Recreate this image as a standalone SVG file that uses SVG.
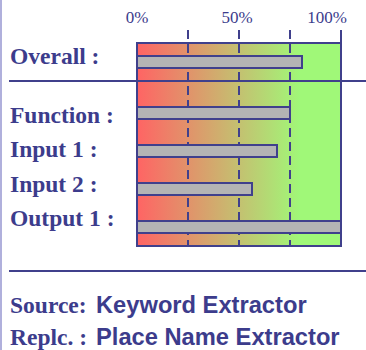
<svg xmlns="http://www.w3.org/2000/svg" width="366" height="350" viewBox="0 0 366 350">
  <defs>
    <linearGradient id="grad" x1="137" y1="0" x2="341" y2="0" gradientUnits="userSpaceOnUse">
      <stop offset="0" stop-color="#ff6464"/>
      <stop offset="0.8" stop-color="#a0f878"/>
      <stop offset="1" stop-color="#a0f878"/>
    </linearGradient>
  </defs>
  <style>
    .lbl { font-family: "Liberation Serif", "Times New Roman", serif; font-weight: bold; font-size: 23.5px; fill: #3c3c8c; }
    .pct { font-family: "Liberation Serif", "Times New Roman", serif; font-size: 17px; fill: #3c3c8c; }
    .sans { font-family: "Liberation Sans", Arial, sans-serif; font-weight: bold; font-size: 23.7px; fill: #3c3c8c; }
    .bar { fill: #b4b4b4; stroke: #40408c; stroke-width: 2; }
    .line { stroke: #40408c; stroke-width: 2; fill: none; }
    .dash { stroke: #40408c; stroke-width: 2; stroke-dasharray: 9 5; fill: none; }
  </style>
  <rect x="0" y="0" width="366" height="350" fill="#ffffff"/>
  <rect x="0" y="0" width="2" height="350" fill="#b0b0dc"/>

  <g id="chart">
    <rect x="137" y="43" width="204" height="203" fill="url(#grad)" stroke="#40408c" stroke-width="2"/>
    <line class="line" x1="341" y1="30" x2="341" y2="246"/>
    <line class="dash" x1="188" y1="30" x2="188" y2="246"/>
    <line class="dash" x1="239" y1="30" x2="239" y2="246"/>
    <line class="dash" x1="290" y1="30" x2="290" y2="246"/>
    <text class="pct" x="137" y="23" text-anchor="middle">0%</text>
    <text class="pct" x="237" y="23" text-anchor="middle">50%</text>
    <text class="pct" x="327" y="23" text-anchor="middle">100%</text>
  </g>

  <g id="separators">
    <line class="line" x1="9" y1="81" x2="366" y2="81"/>
    <line class="line" x1="9" y1="271" x2="366" y2="271"/>
  </g>

  <g id="overall">
    <text class="lbl" x="10" y="64">Overall :</text>
    <rect class="bar" x="137" y="56" width="165" height="12"/>
  </g>
  <g id="function">
    <text class="lbl" x="10" y="123">Function :</text>
    <rect class="bar" x="137" y="107" width="153" height="12"/>
  </g>
  <g id="input1">
    <text class="lbl" x="10" y="157">Input 1 :</text>
    <rect class="bar" x="137" y="145" width="140" height="12"/>
  </g>
  <g id="input2">
    <text class="lbl" x="10" y="192">Input 2 :</text>
    <rect class="bar" x="137" y="183" width="115" height="12"/>
  </g>
  <g id="output1">
    <text class="lbl" x="10" y="226">Output 1 :</text>
    <rect class="bar" x="137" y="221" width="204" height="12"/>
  </g>

  <g id="footer">
    <text x="10" y="313"><tspan class="lbl">Source: </tspan><tspan class="sans" x="96">Keyword Extractor</tspan></text>
    <text x="10" y="345"><tspan class="lbl">Replc. : </tspan><tspan class="sans" x="96">Place Name Extractor</tspan></text>
  </g>
</svg>
